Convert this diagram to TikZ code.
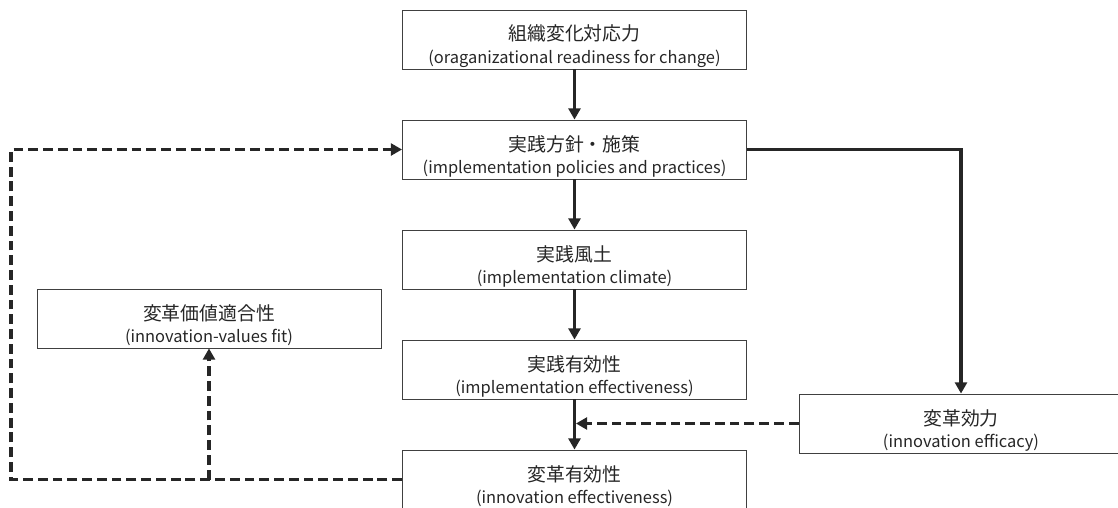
\documentclass[tikz,border=0pt]{standalone}
\usepackage{fontspec}
\setmainfont{Noto Sans CJK JP}
\usetikzlibrary{arrows.meta}
\newcommand{\entxt}[1]{{\fontsize{11.7}{16}\selectfont #1}}
\begin{document}
\begin{tikzpicture}[
        x=0.025cm,y=-0.025cm,
        nsty/.style={
            draw=black!75,rectangle,
            line width=0.6pt,
            minimum width=8.6cm,
            minimum height=1.475cm,
            align=center,
            inner sep=0pt,
            text=black!85,
            font=\fontsize{13.4}{16}\selectfont,
            execute at begin node={\rule{0pt}{1.3cm}},
        },
        tip/.style={-{Triangle[length=8pt,width=8.5pt]}},
        asty/.style={draw=black!85,line width=2.4pt,tip},
        dsty/.style={draw=black!85,line width=2.4pt,dash pattern=on 7pt off 3.5pt,tip},
    ]
    \useasboundingbox (0,0) rectangle (1118,507);

    \node[nsty] at (574.5,39.5) (rd) {組織変化対応力\\\entxt{(oraganizational readiness for change)}};
    \node[nsty] at (574.5,149.5) (pol) {実践方針・施策\\\entxt{(implementation policies and practices)}};
    \node[nsty] at (574.5,259.5) (cl) {実践風土\\\entxt{(implementation climate)}};
    \node[nsty] at (574.5,369.5) (ie) {実践有効性\\\entxt{(implementation effectiveness)}};
    \node[nsty] at (574.5,479.5) (ve) {変革有効性\\\entxt{(innovation effectiveness)}};
    \node[nsty] at (209,318.5) (vf) {変革価値適合性\\\entxt{(innovation-values fit)}};
    \node[nsty,minimum width=8.1cm] at (961,423.5) (ef) {変革効力\\\entxt{(innovation efficacy)}};

    \draw[asty] (rd) -- (pol);
    \draw[asty] (pol) -- (cl);
    \draw[asty] (cl) -- (ie);
    \draw[asty] (ie) -- (ve);
    \draw[asty] (pol.east) -| (ef.north);

    \draw[dsty] (ve.west) -- ++(-391,0) |- (pol.west);
    \draw[dsty] (ve.west -| vf.south) -- (vf.south);
    \draw[dsty,shorten >=1pt] (ef.west) -- (ef.west -| ie.south);

\end{tikzpicture}
\end{document}
